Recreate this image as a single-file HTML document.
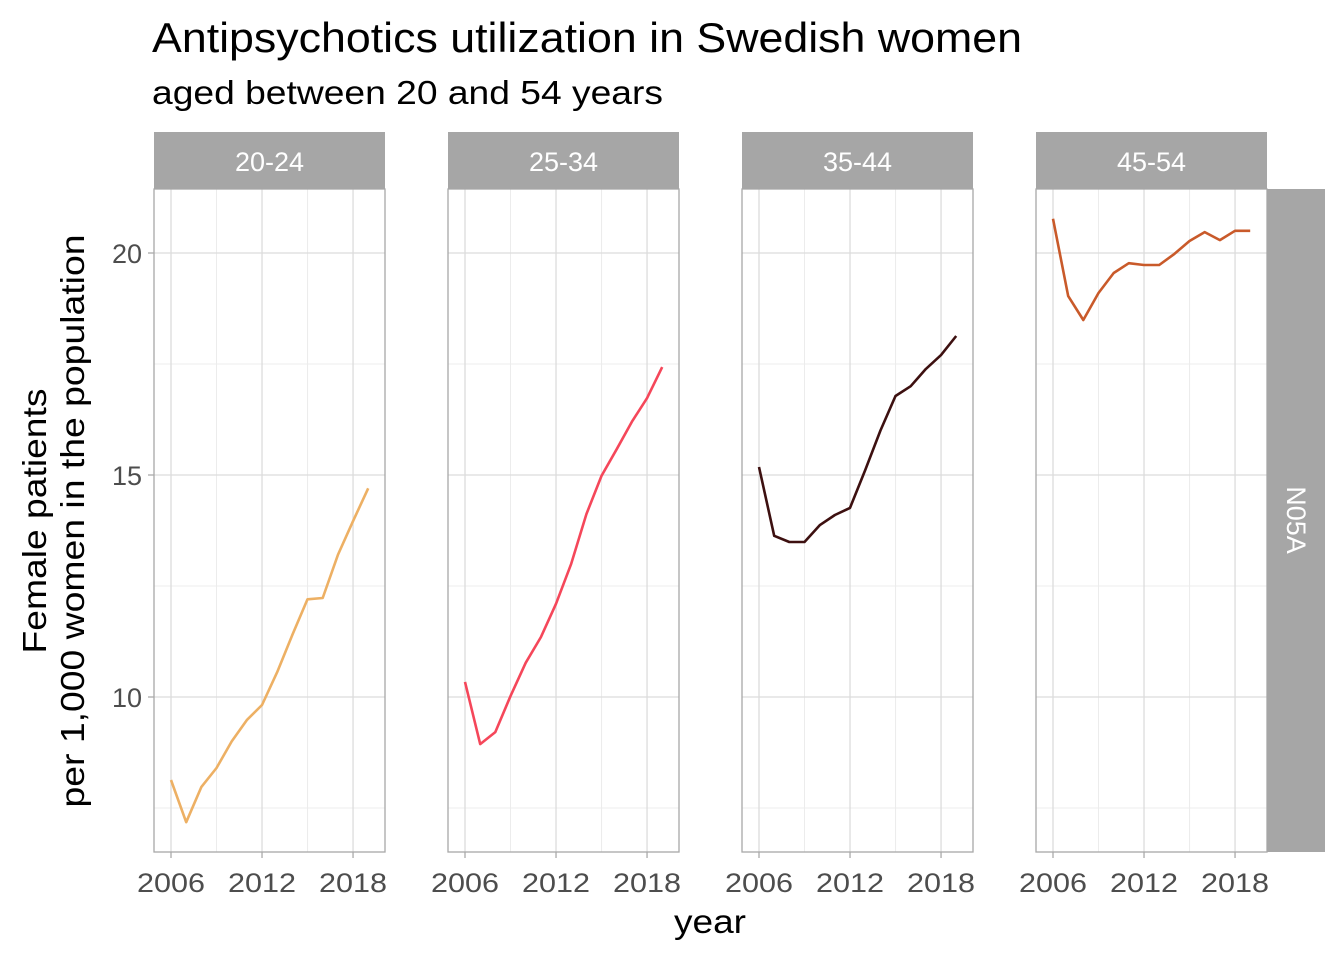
<!DOCTYPE html>
<html><head><meta charset="utf-8"><style>
body{margin:0;background:#fff;}
svg text{font-family:"Liberation Sans",Arial,sans-serif;}
</style></head><body>
<svg id="chart" width="1344" height="960" xmlns="http://www.w3.org/2000/svg">
<text x="152" y="52" font-size="42" textLength="870" lengthAdjust="spacingAndGlyphs" fill="#000">Antipsychotics utilization in Swedish women</text>
<text x="152" y="104" font-size="33" textLength="511" lengthAdjust="spacingAndGlyphs" fill="#000">aged between 20 and 54 years</text>
<text x="710" y="933" font-size="33" textLength="72" lengthAdjust="spacingAndGlyphs" text-anchor="middle" fill="#000">year</text>
<g transform="translate(0,521) rotate(-90)">
<text x="0" y="46" font-size="33" text-anchor="middle" textLength="265" lengthAdjust="spacingAndGlyphs" fill="#000">Female patients</text>
<text x="0" y="84" font-size="33" text-anchor="middle" textLength="573" lengthAdjust="spacingAndGlyphs" fill="#000">per 1,000 women in the population</text>
</g>
<g id="panels"></g>
</svg>
<script>
const years = [2006,2007,2008,2009,2010,2011,2012,2013,2014,2015,2016,2017,2018,2019];
const groups = ["20-24","25-34","35-44","45-54"];
const s2024 = [8.13,7.18,7.97,8.4,9.0,9.48,9.82,10.56,11.4,12.2,12.23,13.2,13.96,14.7];
const s2534 = [10.34,8.94,9.21,10.02,10.77,11.35,12.1,13.0,14.12,14.98,15.58,16.2,16.73,17.43];
const s3544 = [15.18,13.63,13.49,13.49,13.87,14.1,14.26,15.11,16.0,16.78,17.0,17.39,17.7,18.13];
const s4554 = [20.77,19.03,18.49,19.1,19.55,19.77,19.73,19.73,19.98,20.27,20.47,20.29,20.5,20.5];
const yTicks = [10,15,20];
const yMinor = [7.5,12.5,17.5];
const xTicks = [2006,2012,2018];
const xMinor = [2009,2015];
const stripLabel = "N05A";
const series = [s2024,s2534,s3544,s4554];
const colors = ["#EDB064","#F5475A","#3D1010","#C95A2A"];
const NS="http://www.w3.org/2000/svg";
const pgroot=document.getElementById('panels');
const panelX=[154,448,742,1036], pw=231, pTop=189, pBot=852;
const yS=v=>697-(v-10)*44.4;
function mk(t,a,p){const e=document.createElementNS(NS,t);for(const k in a)e.setAttribute(k,a[k]);(p||pgroot).appendChild(e);return e;}
series.forEach((d,i)=>{
  const x0=panelX[i];
  const xS=yr=>x0+17+(yr-2006)*15.17;
  const pg=mk('g',{});
  
  
  yMinor.forEach(v=>mk('line',{x1:x0,x2:x0+pw,y1:yS(v),y2:yS(v),stroke:'#ececec','stroke-width':1},pg));
  xMinor.forEach(v=>mk('line',{x1:xS(v),x2:xS(v),y1:pTop,y2:pBot,stroke:'#ececec','stroke-width':1},pg));
  yTicks.forEach(v=>mk('line',{x1:x0,x2:x0+pw,y1:yS(v),y2:yS(v),stroke:'#dcdcdc','stroke-width':1.3},pg));
  xTicks.forEach(v=>{
    mk('line',{x1:xS(v),x2:xS(v),y1:pTop,y2:pBot,stroke:'#dcdcdc','stroke-width':1.3},pg);
    mk('line',{x1:xS(v),x2:xS(v),y1:pBot,y2:pBot+6,stroke:'#aaa','stroke-width':1.3},pg);
    const t=mk('text',{x:xS(v),y:pBot+40,'font-size':27,'text-anchor':'middle',fill:'#4d4d4d',textLength:68,lengthAdjust:'spacingAndGlyphs'},pg);t.textContent=v;
    
    
  });
  mk('rect',{x:x0,y:pTop,width:pw,height:pBot-pTop,fill:'none',stroke:'#a8a8a8','stroke-width':1.3},pg);
  const sr=mk('rect',{x:x0,y:132,width:pw,height:57,fill:'#a6a6a6'},pg);
  
  
  const st=mk('text',{x:x0+pw/2,y:171,'font-size':27,'text-anchor':'middle',fill:'#fff'},pg);st.textContent=groups[i];
  
  
  const pts=d.map((v,j)=>xS(years[j]).toFixed(1)+','+yS(v).toFixed(1)).join(' ');
  const pl=mk('polyline',{points:pts,fill:'none',stroke:colors[i],'stroke-width':2.6,'stroke-linejoin':'round'},pg);
  
  
  if(i===0){yTicks.forEach(v=>{
    mk('line',{x1:x0-6,x2:x0,y1:yS(v),y2:yS(v),stroke:'#aaa','stroke-width':1.3},pg);
    const t=mk('text',{x:x0-12,y:yS(v)+10,'font-size':27,'text-anchor':'end',fill:'#4d4d4d'},pg);t.textContent=v;
    
    
  });}
});
const rs=mk('rect',{x:1267,y:189,width:58,height:663,fill:'#a6a6a6'});


const rt=mk('text',{transform:'translate(1287,520) rotate(90)','font-size':27,'text-anchor':'middle',fill:'#fff'});rt.textContent=stripLabel;


</script>
</body></html>
